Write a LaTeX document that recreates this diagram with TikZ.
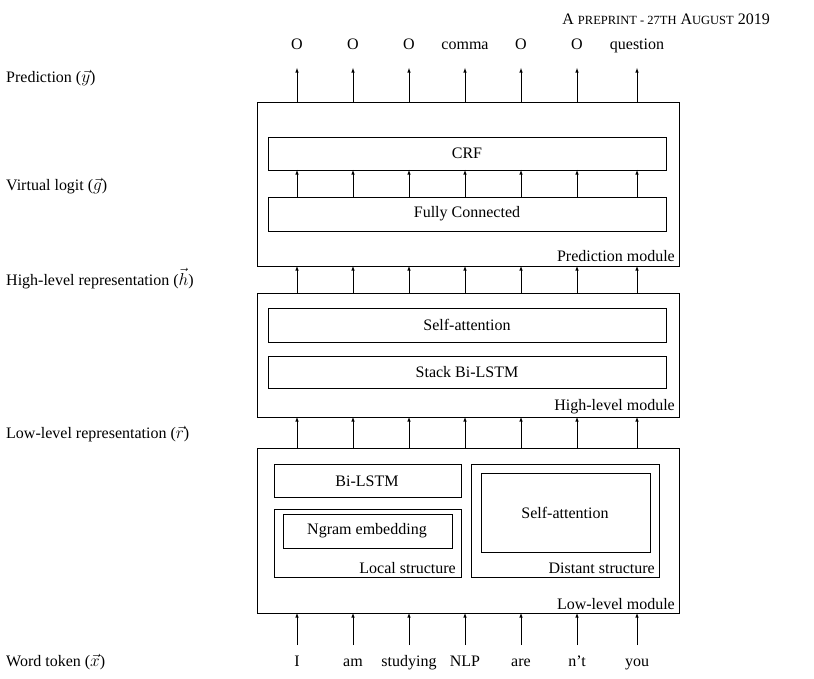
\documentclass[tikz,border=0pt]{standalone}
\usepackage{fontspec}
\setmainfont{Liberation Serif}
\begin{document}
\begin{tikzpicture}[x=1pt,y=-1pt,
 every node/.style={font=\fontsize{16}{18}\selectfont},
 box/.style={draw,line width=0.7pt,inner sep=0},
 lbl/.style={anchor=south east,inner sep=0},
 arr/.style={-latex,line width=0.6pt},
 side/.style={anchor=base west,inner sep=0},
 wd/.style={anchor=base,inner sep=0}]
\useasboundingbox (0,0) rectangle (814,679);
\node[anchor=base east,inner sep=0] (hdr) at (770,25) {A {\fontsize{12.5}{14}\selectfont PREPRINT - 27TH} A{\fontsize{12.5}{14}\selectfont UGUST} 2019};
% boxes
\draw[box] (257,102) rectangle (679,266);
\draw[box] (268,137) rectangle (666,170);
\node (crf) at (467,153.5) {CRF};
\draw[box] (268,197) rectangle (666,231);
\node (fc) at (467,214) {Fully Connected};
\node[lbl] (pml) at (675,262) {Prediction module};
\draw[box] (257,293) rectangle (679,417);
\draw[box] (268,308) rectangle (666,342);
\node (sa) at (467,325) {Self-attention};
\draw[box] (268,356) rectangle (666,388);
\node (sb) at (467,372) {Stack Bi-LSTM};
\node[lbl] (hml) at (675,414) {High-level module};
\draw[box] (257,448) rectangle (679,613);
\draw[box] (274,464) rectangle (461,497);
\node (bl) at (367,481) {Bi-LSTM};
\draw[box] (274,509) rectangle (461,577);
\draw[box] (283,514) rectangle (452,548);
\node (ng) at (367,531) {Ngram embedding};
\node[lbl] (ls) at (456,574) {Local structure};
\draw[box] (471,464) rectangle (659,577);
\draw[box] (481,473) rectangle (650,552);
\node (dsa) at (565,513) {Self-attention};
\node[lbl] (ds) at (655,574) {Distant structure};
\node[lbl] (lml) at (675,610) {Low-level module};
% arrows and texts
\foreach \x/\o/\w [count=\i] in {297/O/I,353/O/am,409/O/studying,465/comma/NLP,521/O/are,577/O/n't,637/question/you}{
 \node[wd] (o\i) at (\x,50) {\o};
 \node[wd] (w\i) at (\x,666) {\w};
}
\foreach \x in {297,353,409,465,521,577,637}{
 \draw[arr] (\x,102) -- (\x,68);
 \draw[arr] (\x,197) -- (\x,170);
 \draw[arr] (\x,293) -- (\x,266);
 \draw[arr] (\x,448) -- (\x,417);
 \draw[arr] (\x,645) -- (\x,613);
}
\node[side] (l1) at (6,83) {Prediction ($\vec{y}$)};
\node[side] (l2) at (6,191) {Virtual logit ($\vec{g}$)};
\node[side] (l3) at (6,285) {High-level representation ($\vec{h}$)};
\node[side] (l4) at (6,438) {Low-level representation ($\vec{r}$)};
\node[side] (l5) at (6,666) {Word token ($\vec{x}$)};
\end{tikzpicture}
\end{document}
